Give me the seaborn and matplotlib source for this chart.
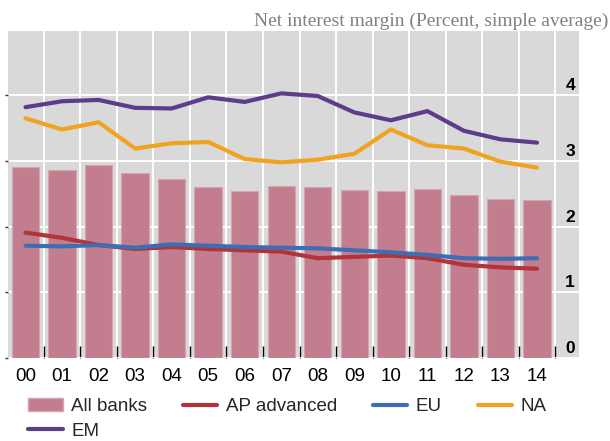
import matplotlib
matplotlib.use('Agg')
import matplotlib.pyplot as plt
import matplotlib.transforms as mtrans
from matplotlib.patches import Patch
from matplotlib.lines import Line2D
import numpy as np
import pandas as pd
import seaborn as sns

# data
years = ['00', '01', '02', '03', '04', '05', '06', '07', '08', '09', '10', '11', '12', '13', '14']
all_banks = [2.91, 2.87, 2.94, 2.81, 2.72, 2.61, 2.54, 2.62, 2.61, 2.56, 2.55, 2.58, 2.49, 2.42, 2.41]
ap_advanced = [1.91, 1.83, 1.72, 1.66, 1.69, 1.66, 1.64, 1.62, 1.52, 1.54, 1.56, 1.52, 1.42, 1.38, 1.36]
eu = [1.71, 1.70, 1.72, 1.68, 1.73, 1.71, 1.69, 1.68, 1.67, 1.64, 1.61, 1.57, 1.52, 1.51, 1.52]
na = [3.65, 3.48, 3.59, 3.19, 3.27, 3.29, 3.03, 2.98, 3.02, 3.11, 3.48, 3.24, 3.19, 2.99, 2.90]
em = [3.82, 3.91, 3.93, 3.81, 3.80, 3.97, 3.90, 4.03, 3.99, 3.74, 3.62, 3.76, 3.46, 3.33, 3.28]
y_ticks = [0, 1, 2, 3, 4]

series_names = ['AP advanced', 'EU', 'NA', 'EM']
colors = {'AP advanced': '#b0343a', 'EU': '#3d6eb4', 'NA': '#f0a321', 'EM': '#5f3b8c'}
bar_color = '#c27e8e'
bg = '#d9d9d9'

pos = np.arange(len(years))
lines_df = pd.concat([
    pd.DataFrame({'pos': pos, 'value': vals, 'series': name})
    for name, vals in zip(series_names, [ap_advanced, eu, na, em])
])

sns.set_theme(style='white')
plt.rcParams['font.family'] = ['Liberation Sans', 'DejaVu Sans']

fig = plt.figure(figsize=(6.1, 4.41), dpi=100)
ax = fig.add_axes([8 / 610, 1 - 358 / 441, 571 / 610, 327 / 441])
ax.set_facecolor(bg)

sns.barplot(x=years, y=all_banks, color=bar_color, saturation=1, width=0.75,
            edgecolor='#d6a3b0', linewidth=0.8, ax=ax, zorder=2)
sns.lineplot(data=lines_df, x='pos', y='value', hue='series', hue_order=series_names,
             palette=colors, linewidth=3, legend=False, ax=ax, zorder=3)

ax.set_xlim(-0.48, 15.15)
ax.set_ylim(0.03, 4.98)

for s in ax.spines.values():
    s.set_visible(False)

# x axis: labels on categories, tick marks and grid on boundaries
ax.set_xticks(pos)
ax.set_xticklabels(years, fontsize=13.5)
ax.set_xticks(pos + 0.5, minor=True)
ax.tick_params(axis='x', which='major', length=0, pad=7, colors='black')
ax.tick_params(axis='x', which='minor', bottom=True, direction='in', length=9, width=1, color='black')
ax.set_xlabel('')
ax.set_ylabel('')

ax.set_yticks(y_ticks)
ax.tick_params(axis='y', left=True, labelleft=False, length=2, width=1, color='#333333', direction='out')

ax.grid(False)
ax.grid(which='minor', axis='x', color='white', linewidth=1.4)
ax.grid(which='major', axis='y', color='white', linewidth=1.4)
ax.set_axisbelow(True)

# y labels sit inside the plot, right side, just above each grid line
trans = mtrans.blended_transform_factory(ax.transAxes, ax.transData)
for v in y_ticks:
    ax.text(0.993, v + 0.076, str(v), transform=trans, ha='right', va='baseline',
            fontsize=12.5, fontweight='bold', color='black')

fig.text(0.997, 1 - 26 / 441, 'Net interest margin (Percent, simple average)',
         ha='right', va='baseline', fontsize=14, color='#808080', family='Liberation Serif')

# legend order chosen so the column-major fill reads row by row
h_bar = Patch(facecolor=bar_color, edgecolor='#d6a3b0', label='All banks')
h_lines = {n: Line2D([0], [0], color=colors[n], linewidth=3, label=n) for n in series_names}
handles = [h_bar, h_lines['EM'], h_lines['AP advanced'], h_lines['EU'], h_lines['NA']]
fig.legend(handles=handles, loc='upper left', bbox_to_anchor=(28 / 610, 1 - 398 / 441),
           ncol=4, frameon=False, fontsize=13.5, borderpad=0, borderaxespad=0,
           handlelength=1.85, handletextpad=0.45, columnspacing=1.9, labelspacing=0.4)

fig.savefig('out.png', dpi=100)
